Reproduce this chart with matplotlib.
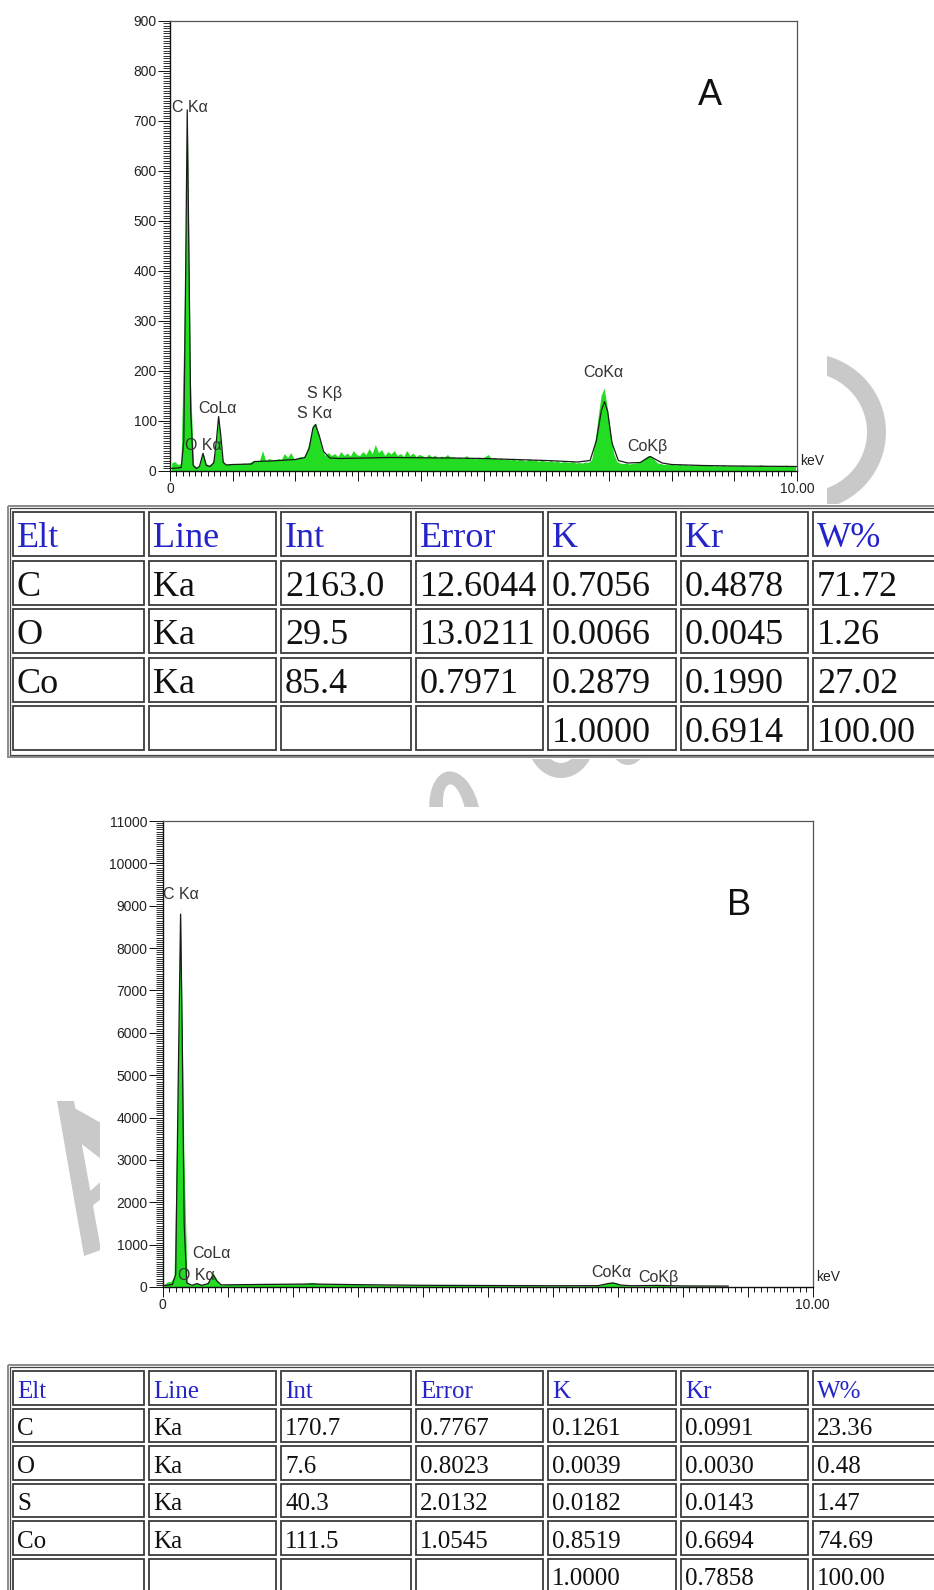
import numpy as np
import matplotlib
matplotlib.use("Agg")
import matplotlib.pyplot as plt
from matplotlib.patches import Rectangle, Ellipse, Polygon
from matplotlib.ticker import MultipleLocator, FixedLocator

# ---------------- spectrum data ----------------
channel_kev = 0.05  # width of one spectrum channel

# Sample A: raw counts per channel, 0-10 keV
counts_a = [
    15, 18, 12, 14, 300, 720, 180, 12, 6, 12, 38, 14, 10, 16, 40, 110, 28, 12, 13, 14,
    12, 14, 13, 15, 14, 16, 20, 18, 19, 40, 20, 24, 22, 21, 24, 22, 34, 26, 36, 24,
    25, 28, 26, 35, 60, 90, 95, 70, 42, 30, 36, 30, 34, 28, 38, 30, 35, 29, 40, 32,
    30, 38, 32, 44, 34, 52, 36, 42, 30, 38, 33, 40, 30, 34, 28, 40, 30, 35, 28, 32,
    30, 26, 33, 27, 31, 25, 29, 27, 32, 26, 28, 25, 27, 24, 30, 25, 26, 23, 27, 24,
    28, 32, 24, 26, 23, 25, 22, 24, 21, 25, 20, 23, 21, 19, 24, 20, 22, 18, 21, 19,
    18, 20, 17, 19, 16, 18, 17, 16, 18, 15, 16, 15, 17, 16, 22, 55, 105, 150, 165, 125,
    75, 35, 18, 15, 14, 15, 13, 14, 15, 16, 20, 25, 30, 28, 22, 15, 14, 12, 13, 12,
    12, 11, 13, 11, 12, 10, 12, 10, 11, 10, 12, 10, 11, 9, 10, 9, 11, 9, 10, 9,
    10, 9, 11, 9, 10, 8, 10, 9, 12, 9, 10, 8, 9, 8, 10, 9, 11, 9, 10, 9,
]
# Sample A: smoothed profile
fit_a_kev = [0.0, 0.12, 0.18, 0.22, 0.25, 0.275, 0.30, 0.33, 0.37, 0.42,
             0.47, 0.525, 0.58, 0.64, 0.70, 0.74, 0.775, 0.81, 0.85, 0.90,
             1.0, 1.3, 1.35, 1.6, 2.0, 2.15, 2.22, 2.28, 2.32, 2.38,
             2.45, 2.55, 2.7, 3.5, 4.5, 5.0, 5.5, 6.0, 6.5, 6.7,
             6.8, 6.88, 6.93, 6.98, 7.05, 7.15, 7.3, 7.5, 7.6, 7.66,
             7.72, 7.85, 8.0, 8.5, 9.0, 10.0]
fit_a_counts = [4, 5, 6, 60, 400, 722, 450, 120, 10, 4,
                8, 34, 10, 8, 16, 60, 108, 70, 16, 11,
                12, 13, 18, 19, 22, 26, 45, 85, 92, 70,
                38, 25, 24, 26, 25, 24, 22, 20, 17, 20,
                60, 120, 138, 118, 55, 20, 15, 16, 24, 28,
                24, 15, 12, 10, 9, 8]

# Sample B: raw counts per channel, 0-8.7 keV
counts_b = [
    60, 120, 130, 250, 4300, 9000, 3200, 120, 40, 60, 100, 60, 50, 90, 150, 330, 200, 60, 50, 55,
    60, 55, 65, 60, 70, 60, 75, 65, 70, 80, 70, 75, 68, 80, 72, 78, 70, 85, 75, 80,
    72, 80, 74, 82, 90, 110, 105, 85, 75, 80, 72, 78, 70, 76, 68, 74, 66, 70, 64, 66,
    58, 62, 55, 58, 52, 55, 50, 53, 48, 52, 47, 50, 45, 48, 44, 47, 42, 45, 41, 44,
    42, 40, 43, 39, 41, 38, 40, 37, 39, 36, 38, 35, 37, 36, 38, 35, 36, 34, 36, 33,
    35, 33, 34, 32, 34, 31, 33, 30, 32, 31, 33, 30, 31, 29, 31, 30, 32, 29, 30, 28,
    30, 29, 31, 28, 30, 28, 29, 27, 29, 28, 30, 29, 31, 33, 40, 60, 90, 110, 115, 95,
    60, 38, 30, 28, 27, 28, 26, 27, 28, 30, 34, 40, 45, 42, 34, 28, 26, 25, 24, 25,
    24, 23, 24, 22, 23, 22, 23, 21, 22, 21, 22, 21, 22, 21,
]
fit_b_kev = [0.0, 0.15, 0.20, 0.24, 0.275, 0.30, 0.33, 0.37, 0.45, 0.525,
             0.60, 0.70, 0.775, 0.83, 0.90, 1.5, 2.3, 3.0, 4.0, 5.0,
             6.0, 6.7, 6.85, 6.93, 7.05, 7.2, 7.6, 7.7, 8.0, 8.7]
fit_b_counts = [30, 60, 300, 5000, 8800, 6000, 1500, 100, 40, 80,
                40, 80, 290, 150, 50, 60, 70, 55, 40, 35,
                30, 32, 80, 95, 45, 30, 38, 35, 25, 22]

# Peak labels: left edge (keV) and vertical centre (counts) of each label
peaks_a_text = ["C K\u03b1", "O K\u03b1", "CoL\u03b1", "S K\u03b2", "S K\u03b1", "CoK\u03b1", "CoK\u03b2"]
peaks_a_kev = [0.03, 0.24, 0.45, 2.18, 2.03, 6.59, 7.29]
peaks_a_cnt = [726, 51, 125, 155, 115, 197, 49]

peaks_b_text = ["C K\u03b1", "O K\u03b1", "CoL\u03b1", "CoK\u03b1", "CoK\u03b2"]
peaks_b_kev = [0.0, 0.24, 0.45, 6.6, 7.31]
peaks_b_cnt = [9254, 283, 779, 354, 236]

# ---------------- quantification tables ----------------
table_header = ["Elt", "Line", "Int", "Error", "K", "Kr", "W%"]

elt_a = ["C", "O", "Co", ""]
line_a = ["Ka", "Ka", "Ka", ""]
int_a = ["2163.0", "29.5", "85.4", ""]
err_a = ["12.6044", "13.0211", "0.7971", ""]
k_a = ["0.7056", "0.0066", "0.2879", "1.0000"]
kr_a = ["0.4878", "0.0045", "0.1990", "0.6914"]
wt_a = ["71.72", "1.26", "27.02", "100.00"]

elt_b = ["C", "O", "S", "Co", ""]
line_b = ["Ka", "Ka", "Ka", "Ka", ""]
int_b = ["170.7", "7.6", "40.3", "111.5", ""]
err_b = ["0.7767", "0.8023", "2.0132", "1.0545", ""]
k_b = ["0.1261", "0.0039", "0.0182", "0.8519", "1.0000"]
kr_b = ["0.0991", "0.0030", "0.0143", "0.6694", "0.7858"]
wt_b = ["23.36", "0.48", "1.47", "74.69", "100.00"]

# ---------------- figure ----------------
W, H = 934, 1590
fig = plt.figure(figsize=(W / 100, H / 100), dpi=100)
fig.patch.set_facecolor("white")

GREEN = "#22dd22"
SANS = "Liberation Sans"
SERIF = "Liberation Serif"
STAMP = "#c9c9c9"

# page layer in pixel units (y downward)
page = fig.add_axes([0, 0, 1, 1], zorder=0)
page.set_xlim(0, W)
page.set_ylim(H, 0)
page.axis("off")

# faint stamp fragments showing between the panels
stamp_rings = [  # (cx, cy, outer w, outer h, inner w, inner h, angle)
    (805, 432, 162, 158, 124, 120, 0),
    (455, 815, 50, 88, 22, 62, -10),
    (561, 735, 70, 86, 40, 56, 0),
    (628, 730, 44, 70, 20, 44, 0),
]
for cx, cy, ow, oh, iw, ih, ang in stamp_rings:
    page.add_patch(Ellipse((cx, cy), ow, oh, angle=ang, facecolor=STAMP,
                           edgecolor="none", zorder=1))
    page.add_patch(Ellipse((cx, cy), iw, ih, angle=ang, facecolor="white",
                           edgecolor="none", zorder=1.1))
stamp_strokes = [
    [(57, 1101), (74, 1101), (101, 1250), (84, 1256)],   # left leg
    [(60, 1100), (110, 1128), (110, 1166), (74, 1138)],  # right leg
    [(84, 1196), (110, 1174), (110, 1192), (87, 1210)],  # cross bar
]
for pts in stamp_strokes:
    page.add_patch(Polygon(pts, closed=True, facecolor=STAMP, edgecolor="none",
                           zorder=1.2))

# white panels that sit over the stamp
for x0, y0, x1, y1 in [(60, 0, 827, 506), (8, 504, W + 5, 759),
                       (100, 807, 870, 1335), (8, 1364, W + 5, H + 5)]:
    page.add_patch(Rectangle((x0, y0), x1 - x0, y1 - y0, facecolor="white",
                             edgecolor="none", zorder=2))


def draw_table(cols, top, pitch, cell_h, fsize, frame_bottom):
    lefts = [13, 149, 281, 416, 548, 681, 813]
    widths = [131, 127, 130, 127, 128, 127, 135]
    # outer frame
    page.add_patch(Rectangle((8, top - 6), W, frame_bottom - top + 6, fill=False,
                             edgecolor="#8a8a8a", lw=1.4, zorder=3))
    page.add_patch(Rectangle((10, top - 4), W, frame_bottom - top + 2, fill=False,
                             edgecolor="#444444", lw=0.9, zorder=3))
    nrows = len(cols[0]) + 1
    for r in range(nrows):
        y0 = top + r * pitch
        for c, (x0, w) in enumerate(zip(lefts, widths)):
            page.add_patch(Rectangle((x0, y0), w, cell_h, facecolor="white",
                                     edgecolor="#3c3c3c", lw=1.3, zorder=3))
            if r == 0:
                txt, col = table_header[c], "#2424c8"
            else:
                txt, col = cols[c][r - 1], "#111111"
            if txt:
                page.text(x0 + 4, y0 + cell_h * 0.80, txt, ha="left",
                          va="baseline", fontsize=fsize, family=SERIF,
                          color=col, zorder=4)


draw_table([elt_a, line_a, int_a, err_a, k_a, kr_a, wt_a],
           top=512, pitch=48.6, cell_h=44, fsize=26, frame_bottom=757)
draw_table([elt_b, line_b, int_b, err_b, k_b, kr_b, wt_b],
           top=1371, pitch=37.5, cell_h=33.5, fsize=18, frame_bottom=H + 10)


def spectrum_axes(rect_px, ymax, ymajor, yminor, counts, fit_kev, fit_counts,
                  major_len, minor_len):
    x0, y0, x1, y1 = rect_px
    ax = fig.add_axes([x0 / W, 1 - y1 / H, (x1 - x0) / W, (y1 - y0) / H], zorder=5)
    ax.set_facecolor("white")
    kev = (np.arange(len(counts)) + 0.5) * channel_kev
    ax.fill_between(kev, 0, counts, color=GREEN, lw=0, zorder=2)
    ax.plot(fit_kev, fit_counts, color="#1a1a1a", lw=0.9, zorder=3)
    ax.set_xlim(0, 10)
    ax.set_ylim(0, ymax)

    ax.xaxis.set_major_locator(FixedLocator(np.arange(0, 11)))
    ax.xaxis.set_minor_locator(MultipleLocator(0.1))
    ax.set_xticklabels(["0"] + [""] * 9 + ["10.00"])
    ax.set_yticks(np.arange(0, ymax + 1, ymajor))
    ax.set_yticklabels([f"{int(v)}" for v in np.arange(0, ymax + 1, ymajor)])
    ax.yaxis.set_minor_locator(MultipleLocator(yminor))

    ax.tick_params(axis="both", which="both", direction="out", colors="#111111",
                   labelcolor="#222222", labelsize=10, width=0.7)
    ax.tick_params(axis="x", which="major", length=7.2, pad=1)
    ax.tick_params(axis="x", which="minor", length=3.6)
    ax.tick_params(axis="y", which="major", length=major_len, pad=1)
    ax.tick_params(axis="y", which="minor", length=minor_len, width=0.6)
    for lab in ax.get_xticklabels() + ax.get_yticklabels():
        lab.set_family(SANS)

    for side in ("left", "bottom"):
        ax.spines[side].set_color("#111111")
        ax.spines[side].set_linewidth(1.0)
    for side in ("top", "right"):
        ax.spines[side].set_color("#555555")
        ax.spines[side].set_linewidth(0.9)

    ax.text(1.005, 0.022, "keV", transform=ax.transAxes, ha="left", va="center",
            fontsize=10, family=SANS, color="#222222")
    return ax


ax_a = spectrum_axes((170, 21, 797, 470.5), 900, 100, 5, counts_a,
                     fit_a_kev, fit_a_counts, 8.6, 4.8)
for t, xk, yc in zip(peaks_a_text, peaks_a_kev, peaks_a_cnt):
    ax_a.text(xk, yc, t, ha="left", va="center", fontsize=11.5, family=SANS,
              color="#333333", zorder=4)
ax_a.text(8.61, 750, "A", ha="center", va="center", fontsize=26, family=SANS,
          color="#111111")

ax_b = spectrum_axes((162.7, 821, 812.7, 1287), 11000, 1000, 50, counts_b,
                     fit_b_kev, fit_b_counts, 10, 4.8)
for t, xk, yc in zip(peaks_b_text, peaks_b_kev, peaks_b_cnt):
    ax_b.text(xk, yc, t, ha="left", va="center", fontsize=11.5, family=SANS,
              color="#333333", zorder=4)
ax_b.text(8.87, 8994, "B", ha="center", va="center", fontsize=26, family=SANS,
          color="#111111")

fig.savefig("out.png", dpi=100, facecolor="white")
